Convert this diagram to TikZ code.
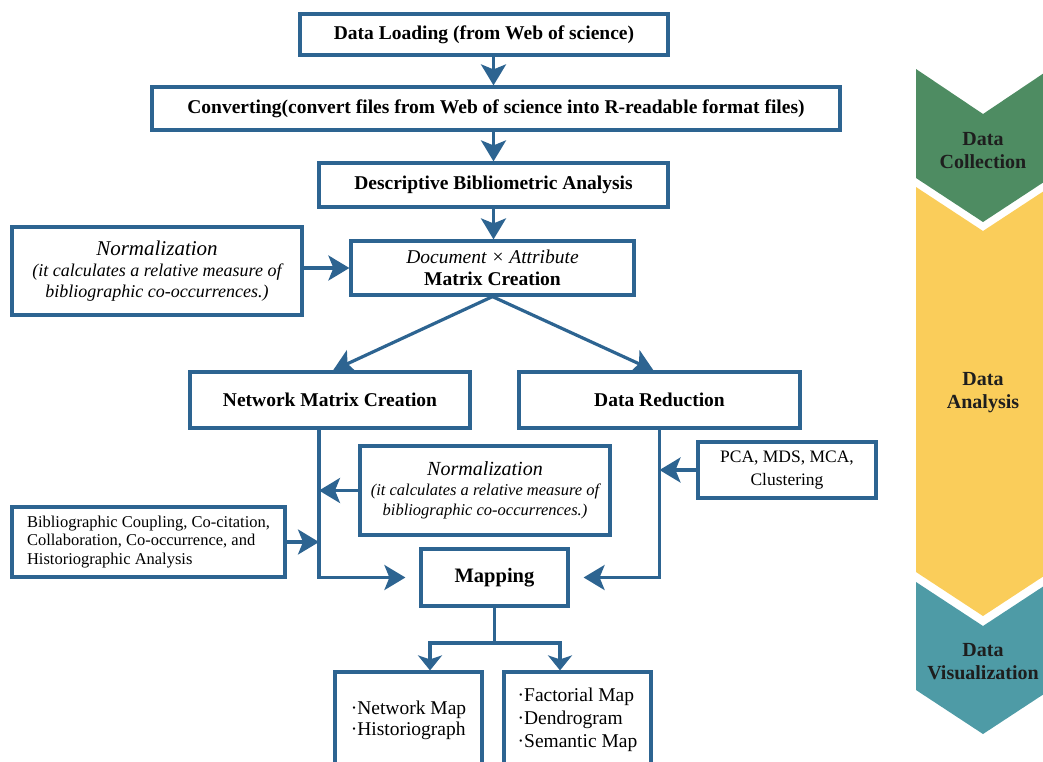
\documentclass[tikz,border=0pt]{standalone}
\usepackage{fontspec}
\setmainfont{Liberation Serif}
\usetikzlibrary{arrows.meta}
\definecolor{bl}{RGB}{45,100,145}
\definecolor{cgreen}{RGB}{78,140,98}
\definecolor{cyellow}{RGB}{250,205,90}
\definecolor{cteal}{RGB}{78,155,166}
\definecolor{ctext}{RGB}{30,30,30}
\begin{document}
\begin{tikzpicture}[x=1pt,y=-1pt,
  box/.style={draw=bl, line width=3.2pt, inner sep=0pt, align=center, fill=white, text=black},
  bftext/.style={font=\fontsize{19.5}{22}\selectfont\bfseries},
  arr/.style={draw=bl, line width=3.2pt, -{Stealth[length=21pt,width=25pt,inset=5pt]}},
  arrb/.style={draw=bl, line width=3.2pt, -{Stealth[length=15pt,width=24pt,inset=4pt]}},
  ln/.style={draw=bl, line width=3.2pt},
  chev/.style={font=\fontsize{20}{23}\selectfont\bfseries, text=ctext, align=center},
]
\useasboundingbox (0,0) rectangle (1043,761);
\clip (0,0) rectangle (1043,761);

% chevrons
\fill[cgreen] (916,69) -- (983,114) -- (1050,69) -- (1050,178) -- (983,222) -- (916,178) -- cycle;
\fill[cyellow] (916,187) -- (983,231) -- (1050,187) -- (1050,572) -- (983,616) -- (916,572) -- cycle;
\fill[cteal] (916,582) -- (983,626) -- (1050,582) -- (1050,690) -- (983,734) -- (916,690) -- cycle;
\node[chev] (tc) at (983,151) {Data\\Collection};
\node[chev] (ta) at (983,393) {Data\\Analysis};
\node[chev] (tv) at (983,662) {Data\\Visualization};

% boxes
\node[box, bftext, minimum width=368, minimum height=41] (dl) at (484,34.5) {Data Loading (from Web of science)};
\node[box, bftext, minimum width=688, minimum height=43] (conv) at (496,108.5) {Converting(convert files from Web of science into R-readable format files)};
\node[box, bftext, minimum width=349, minimum height=44] (desc) at (493.5,185) {Descriptive Bibliometric Analysis};
\node[box, font=\fontsize{18}{21}\selectfont\itshape, minimum width=290, minimum height=88] (norm1) at (157,271) {{\fontsize{21}{21}\selectfont Normalization}\\(it calculates a relative measure of\\bibliographic co-occurrences.)};
\node[box, font=\fontsize{19.5}{22}\selectfont, minimum width=283, minimum height=54] (mat) at (492.5,268) {{\itshape Document × Attribute}\\{\bfseries Matrix Creation}};
\node[box, bftext, minimum width=280, minimum height=56] (nmc) at (330,400) {Network Matrix Creation};
\node[box, bftext, minimum width=281, minimum height=56] (dr) at (659.5,400) {Data Reduction};
\node[box, font=\fontsize{16.5}{20}\selectfont\itshape, minimum width=250, minimum height=89] (norm2) at (485,490.5) {{\fontsize{20}{20}\selectfont Normalization}\\(it calculates a relative measure of\\bibliographic co-occurrences.)};
\node[box, font=\fontsize{17.5}{23}\selectfont, minimum width=178, minimum height=56] (pca) at (787,470) {PCA, MDS, MCA,\\Clustering};
\node[box, font=\fontsize{16.5}{18.5}\selectfont, align=left, minimum width=273, minimum height=70] (bib) at (148.5,542) {Bibliographic Coupling, Co-citation,\\Collaboration, Co-occurrence, and\\Historiographic Analysis};
\node[box, font=\fontsize{20.5}{22}\selectfont\bfseries, minimum width=147, minimum height=57] (map) at (494.5,577.5) {Mapping};
\node[box, font=\fontsize{19.5}{21}\selectfont, align=left, minimum width=147, minimum height=96] (nmap) at (408.5,720) {·Network Map\\·Historiograph};
\node[box, font=\fontsize{19.5}{23}\selectfont, align=left, minimum width=147, minimum height=96] (fmap) at (577.5,720) {·Factorial Map\\·Dendrogram\\·Semantic Map};

% coordinates
\coordinate (lv) at (319,577.5);
\coordinate (mj) at (494.5,643);

% connectors
\draw[arr] (dl.south -| desc) -- (conv.north -| desc);
\draw[arr] (conv.south -| desc) -- (desc.north);
\draw[arr] (desc.south) -- (mat.north -| desc);
\draw[arr] (norm1.east |- mat) -- (mat.west);
\draw[arr] (mat.south) -- ([xshift=3pt]nmc.north);
\draw[arr] (mat.south) -- ([xshift=-6pt]dr.north);
\draw[arr] (nmc.south -| lv) -- (lv) -- ([xshift=-14pt]map.west);
\draw[arr] (dr.south) |- ([xshift=14pt]map.east);
\draw[arr] (norm2.west) -- (norm2.west -| lv);
\draw[arr] (bib.east) -- (bib.east -| lv);
\draw[arr] (pca.west) -- (pca.west -| dr.south);
\draw[ln] (map.south) -- (mj);
\draw[arrb] (mj) -| ([xshift=21.5pt]nmap.north);
\draw[arrb] (mj) -| ([xshift=-17.5pt]fmap.north);
\end{tikzpicture}
\end{document}
